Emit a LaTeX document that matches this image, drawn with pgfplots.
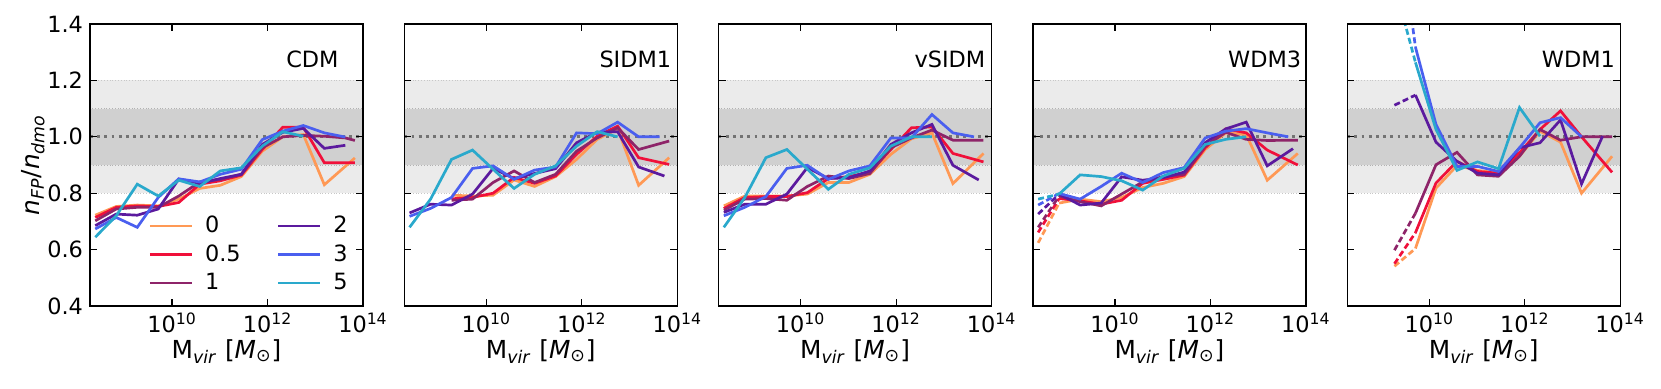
\documentclass[border=0pt]{standalone}
\usepackage{fontspec}
\setmainfont{DejaVu Sans}
\usepackage{pgfplots}
\pgfplotsset{compat=1.18}

\definecolor{c0}{HTML}{FF9955}
\definecolor{c05}{HTML}{F0103A}
\definecolor{c1}{HTML}{8E2469}
\definecolor{c2}{HTML}{5B1A9E}
\definecolor{c3}{HTML}{4A5FEF}
\definecolor{c5}{HTML}{2AA9CC}
\definecolor{bandlight}{HTML}{EBEBEB}
\definecolor{banddark}{HTML}{D0D0D0}

\newcommand{\tf}{\fontsize{11.2pt}{13pt}\selectfont}
\newcommand{\lf}{\fontsize{12.4pt}{14pt}\selectfont}

\pgfplotsset{
  panel/.style={
    scale only axis, width=136.5pt, height=141pt,
    xmin=8.28, xmax=14, ymin=0.4, ymax=1.4,
    xtick={10,12,14},
    xticklabels={10\textsuperscript{10},10\textsuperscript{12},10\textsuperscript{14}},
    ytick={0.4,0.6,0.8,1.0,1.2,1.4},
    tick align=inside, tick pos=both,
    major tick length=3.5pt, minor tick num=0,
    tick style={black, line width=0.6pt},
    axis line style={black, line width=0.7pt},
    axis on top,
    tick label style={font=\tf},
    yticklabel style={/pgf/number format/fixed, /pgf/number format/fixed zerofill,
      /pgf/number format/precision=1, /pgf/number format/assume math mode=true},
    xlabel={M\textsubscript{\textit{vir}} [\textit{M}\textsubscript{⊙}]},
    label style={font=\lf},
    xlabel style={at={(axis description cs:0.5,-0.16)}, anchor=center},
  },
  l0/.style={c0, line width=1.35pt, forget plot},
  l05/.style={c05, line width=1.35pt, forget plot},
  l1/.style={c1, line width=1.35pt, forget plot},
  l2/.style={c2, line width=1.35pt, forget plot},
  l3/.style={c3, line width=1.35pt, forget plot},
  l5/.style={c5, line width=1.35pt, forget plot},
  dsh/.style={dash pattern=on 3pt off 1.6pt},
}

\newcommand{\bands}{%
  \addplot[draw=black!22, line width=0.4pt, densely dotted, fill=bandlight, forget plot]
    coordinates {(8.28,0.8) (14,0.8) (14,1.2) (8.28,1.2)} -- cycle;
  \addplot[draw=black!30, line width=0.4pt, densely dotted, fill=banddark, forget plot]
    coordinates {(8.28,0.9) (14,0.9) (14,1.1) (8.28,1.1)} -- cycle;
  \addplot[black!55, line width=1.4pt, dash pattern=on 1.4pt off 2.2pt, forget plot]
    coordinates {(8.28,1) (14,1)};
}

\begin{document}
\begin{tikzpicture}
\useasboundingbox (-45pt,-41pt) rectangle (785.5pt,153pt);

% ---------------- CDM ----------------
\begin{axis}[panel, at={(0pt,0pt)},
  ylabel={\textit{n}\textsubscript{\textit{FP}}/\textit{n}\textsubscript{\textit{dmo}}},
  ylabel style={at={(axis description cs:-0.209,0.5)}, anchor=center},
  legend columns=2,
  legend image code/.code={\draw[#1] (0pt,0pt) -- (21pt,0pt);},
  legend style={draw=none, fill=none, font=\tf, inner sep=0pt, row sep=0.5pt,
    /tikz/column 1/.style={column sep=4pt},
    /tikz/column 2/.style={column sep=16pt},
    /tikz/column 3/.style={column sep=4pt},
    cells={anchor=west}, at={(0.2125,0.334)}, anchor=north west}]
\bands
\addplot[l0] coordinates {(8.39,0.722)(8.83,0.753)(9.27,0.758)(9.71,0.755)(10.14,0.779)(10.58,0.817)(11.01,0.828)(11.45,0.859)(11.89,0.949)(12.32,1.000)(12.75,1.008)(13.19,0.830)(13.83,0.925)};
\addplot[l05] coordinates {(8.39,0.714)(8.83,0.750)(9.27,0.755)(9.71,0.753)(10.14,0.767)(10.58,0.832)(11.01,0.844)(11.45,0.864)(11.89,0.955)(12.32,1.034)(12.75,1.034)(13.19,0.908)(13.83,0.908)};
\addplot[l1] coordinates {(8.39,0.702)(8.83,0.744)(9.27,0.750)(9.71,0.750)(10.14,0.790)(10.58,0.840)(11.01,0.849)(11.45,0.867)(11.89,0.961)(12.32,1.000)(12.75,1.005)(13.19,1.002)(13.63,0.996)(13.83,0.987)};
\addplot[l2] coordinates {(8.39,0.685)(8.83,0.726)(9.27,0.722)(9.71,0.744)(10.14,0.850)(10.58,0.835)(11.01,0.852)(11.45,0.867)(11.89,0.973)(12.32,1.016)(12.75,1.030)(13.19,0.959)(13.63,0.970)};
\addplot[l3] coordinates {(8.39,0.673)(8.83,0.714)(9.27,0.679)(9.71,0.785)(10.14,0.851)(10.58,0.840)(11.01,0.867)(11.45,0.885)(11.89,0.990)(12.32,1.020)(12.75,1.040)(13.19,1.014)(13.63,0.999)};
\addplot[l5] coordinates {(8.39,0.644)(8.83,0.720)(9.27,0.832)(9.71,0.790)(10.14,0.846)(10.58,0.824)(11.01,0.879)(11.45,0.890)(11.89,0.967)(12.32,1.018)(12.75,1.002)};
\addlegendimage{c0, line width=1.35pt}\addlegendentry{0}
\addlegendimage{c2, line width=1.35pt}\addlegendentry{2}
\addlegendimage{c05, line width=1.35pt}\addlegendentry{0.5}
\addlegendimage{c3, line width=1.35pt}\addlegendentry{3}
\addlegendimage{c1, line width=1.35pt}\addlegendentry{1}
\addlegendimage{c5, line width=1.35pt}\addlegendentry{5}
\node[anchor=east, inner sep=0pt, font=\tf] at (rel axis cs:0.912,0.876) {CDM};
\end{axis}

% ---------------- SIDM1 ----------------
\begin{axis}[panel, at={(157.15pt,0pt)}, yticklabels={}]
\bands
\addplot[l0] coordinates {(9.27,0.793)(9.71,0.790)(10.14,0.793)(10.58,0.847)(11.01,0.824)(11.45,0.859)(11.89,0.920)(12.32,0.991)(12.75,1.028)(13.19,0.828)(13.83,0.926)};
\addplot[l05] coordinates {(9.27,0.780)(9.71,0.785)(10.14,0.800)(10.58,0.856)(11.01,0.835)(11.45,0.861)(11.89,0.938)(12.32,1.002)(12.75,1.038)(13.19,0.926)(13.83,0.902)};
\addplot[l1] coordinates {(9.27,0.775)(9.71,0.779)(10.14,0.838)(10.58,0.879)(11.01,0.838)(11.45,0.867)(11.89,0.949)(12.32,0.996)(12.75,1.032)(13.19,0.955)(13.83,0.985)};
\addplot[l2] coordinates {(8.39,0.730)(8.83,0.761)(9.27,0.758)(9.71,0.797)(10.14,0.888)(10.58,0.852)(11.01,0.870)(11.45,0.887)(11.89,0.979)(12.32,1.016)(12.75,1.018)(13.19,0.893)(13.73,0.861)};
\addplot[l3] coordinates {(8.39,0.718)(8.83,0.746)(9.27,0.785)(9.71,0.888)(10.14,0.897)(10.58,0.849)(11.01,0.882)(11.45,0.893)(11.89,1.014)(12.32,1.011)(12.75,1.052)(13.19,1.000)(13.63,1.000)};
\addplot[l5] coordinates {(8.39,0.679)(8.83,0.779)(9.27,0.920)(9.71,0.953)(10.14,0.885)(10.58,0.817)(11.01,0.867)(11.45,0.897)(11.89,0.967)(12.32,1.018)(12.75,1.000)};
\node[anchor=east, inner sep=0pt, font=\tf] at (rel axis cs:0.979,0.876) {SIDM1};
\end{axis}

% ---------------- vSIDM ----------------
\begin{axis}[panel, at={(314.3pt,0pt)}, yticklabels={}]
\bands
\addplot[l0] coordinates {(8.39,0.755)(8.83,0.790)(9.27,0.790)(9.71,0.790)(10.14,0.797)(10.58,0.838)(11.01,0.838)(11.45,0.867)(11.89,0.938)(12.32,0.993)(12.75,1.014)(13.19,0.834)(13.83,0.941)};
\addplot[l05] coordinates {(8.39,0.746)(8.83,0.785)(9.27,0.788)(9.71,0.788)(10.14,0.802)(10.58,0.852)(11.01,0.859)(11.45,0.875)(11.89,0.955)(12.32,1.032)(12.75,1.035)(13.19,0.941)(13.83,0.911)};
\addplot[l1] coordinates {(8.39,0.740)(8.83,0.779)(9.27,0.781)(9.71,0.775)(10.14,0.824)(10.58,0.861)(11.01,0.852)(11.45,0.870)(11.89,0.961)(12.32,0.996)(12.75,1.024)(13.19,0.988)(13.83,0.988)};
\addplot[l2] coordinates {(8.39,0.732)(8.83,0.761)(9.27,0.761)(9.71,0.797)(10.14,0.891)(10.58,0.852)(11.01,0.855)(11.45,0.879)(11.89,0.973)(12.32,1.014)(12.75,1.044)(13.19,0.899)(13.73,0.847)};
\addplot[l3] coordinates {(8.39,0.720)(8.83,0.750)(9.27,0.788)(9.71,0.888)(10.14,0.899)(10.58,0.849)(11.01,0.879)(11.45,0.897)(11.89,0.996)(12.32,0.996)(12.75,1.079)(13.19,1.014)(13.63,1.000)};
\addplot[l5] coordinates {(8.39,0.679)(8.83,0.785)(9.27,0.926)(9.71,0.955)(10.14,0.885)(10.58,0.814)(11.01,0.867)(11.45,0.890)(11.89,0.967)(12.32,1.000)(12.75,1.000)};
\node[anchor=east, inner sep=0pt, font=\tf] at (rel axis cs:0.978,0.876) {vSIDM};
\end{axis}

% ---------------- WDM3 ----------------
\begin{axis}[panel, at={(471.45pt,0pt)}, yticklabels={}]
\bands
\addplot[l0, dsh] coordinates {(8.39,0.624)(8.83,0.765)};
\addplot[l0] coordinates {(8.83,0.765)(9.27,0.779)(9.71,0.770)(10.14,0.785)(10.58,0.820)(11.01,0.835)(11.45,0.859)(11.89,0.955)(12.32,1.014)(12.75,1.008)(13.19,0.846)(13.83,0.941)};
\addplot[l05, dsh] coordinates {(8.39,0.661)(8.83,0.781)};
\addplot[l05] coordinates {(8.83,0.781)(9.27,0.773)(9.71,0.761)(10.14,0.775)(10.58,0.835)(11.01,0.849)(11.45,0.864)(11.89,0.961)(12.32,1.028)(12.75,1.014)(13.19,0.953)(13.83,0.900)};
\addplot[l1, dsh] coordinates {(8.39,0.679)(8.83,0.790)};
\addplot[l1] coordinates {(8.83,0.790)(9.27,0.770)(9.71,0.755)(10.14,0.797)(10.58,0.840)(11.01,0.859)(11.45,0.867)(11.89,0.967)(12.32,1.016)(12.75,0.991)(13.19,0.987)(13.83,0.988)};
\addplot[l2, dsh] coordinates {(8.39,0.726)(8.83,0.797)};
\addplot[l2] coordinates {(8.83,0.797)(9.27,0.758)(9.71,0.765)(10.14,0.858)(10.58,0.846)(11.01,0.855)(11.45,0.875)(11.89,0.979)(12.32,1.028)(12.75,1.052)(13.19,0.897)(13.73,0.958)};
\addplot[l3, dsh] coordinates {(8.39,0.758)(8.83,0.799)};
\addplot[l3] coordinates {(8.83,0.799)(9.27,0.779)(9.71,0.824)(10.14,0.871)(10.58,0.838)(11.01,0.873)(11.45,0.891)(11.89,0.996)(12.32,1.020)(12.75,1.029)(13.19,1.014)(13.63,1.000)};
\addplot[l5, dsh] coordinates {(8.39,0.779)(8.83,0.797)};
\addplot[l5] coordinates {(8.83,0.797)(9.27,0.865)(9.71,0.859)(10.14,0.844)(10.58,0.811)(11.01,0.861)(11.45,0.888)(11.89,0.973)(12.32,0.991)(12.75,1.000)};
\node[anchor=east, inner sep=0pt, font=\tf] at (rel axis cs:0.984,0.876) {WDM3};
\end{axis}

% ---------------- WDM1 ----------------
\begin{axis}[panel, at={(628.6pt,0pt)}, yticklabels={}]
\bands
\addplot[l0, dsh] coordinates {(9.27,0.541)(9.71,0.604)};
\addplot[l0] coordinates {(9.71,0.604)(10.14,0.818)(10.58,0.898)(11.01,0.881)(11.45,0.871)(11.89,0.931)(12.32,1.020)(12.75,0.981)(13.19,0.800)(13.83,0.931)};
\addplot[l05, dsh] coordinates {(9.27,0.550)(9.71,0.660)};
\addplot[l05] coordinates {(9.71,0.660)(10.14,0.836)(10.58,0.913)(11.01,0.877)(11.45,0.871)(11.89,0.943)(12.32,1.026)(12.75,1.092)(13.19,1.000)(13.83,0.874)};
\addplot[l1, dsh] coordinates {(9.27,0.598)(9.71,0.729)};
\addplot[l1] coordinates {(9.71,0.729)(10.14,0.901)(10.58,0.945)(11.01,0.865)(11.45,0.860)(11.89,0.931)(12.32,1.026)(12.75,0.988)(13.19,1.000)(13.83,1.000)};
\addplot[l2, dsh] coordinates {(9.27,1.112)(9.71,1.148)};
\addplot[l2] coordinates {(9.71,1.148)(10.14,0.981)(10.58,0.913)(11.01,0.871)(11.45,0.865)(11.89,0.961)(12.32,0.979)(12.75,1.060)(13.19,0.833)(13.63,1.002)};
\addplot[l3, dsh] coordinates {(9.27,1.870)(9.71,1.318)};
\addplot[l3] coordinates {(9.71,1.318)(10.14,1.044)(10.58,0.895)(11.01,0.895)(11.45,0.877)(11.89,0.961)(12.32,1.050)(12.75,1.068)(13.19,1.000)};
\addplot[l5, dsh] coordinates {(9.27,1.540)(9.71,1.264)};
\addplot[l5] coordinates {(9.71,1.264)(10.14,1.026)(10.58,0.881)(11.01,0.911)(11.45,0.887)(11.89,1.104)(12.32,1.002)};
\node[anchor=east, inner sep=0pt, font=\tf] at (rel axis cs:0.982,0.876) {WDM1};
\end{axis}
\end{tikzpicture}
\end{document}
